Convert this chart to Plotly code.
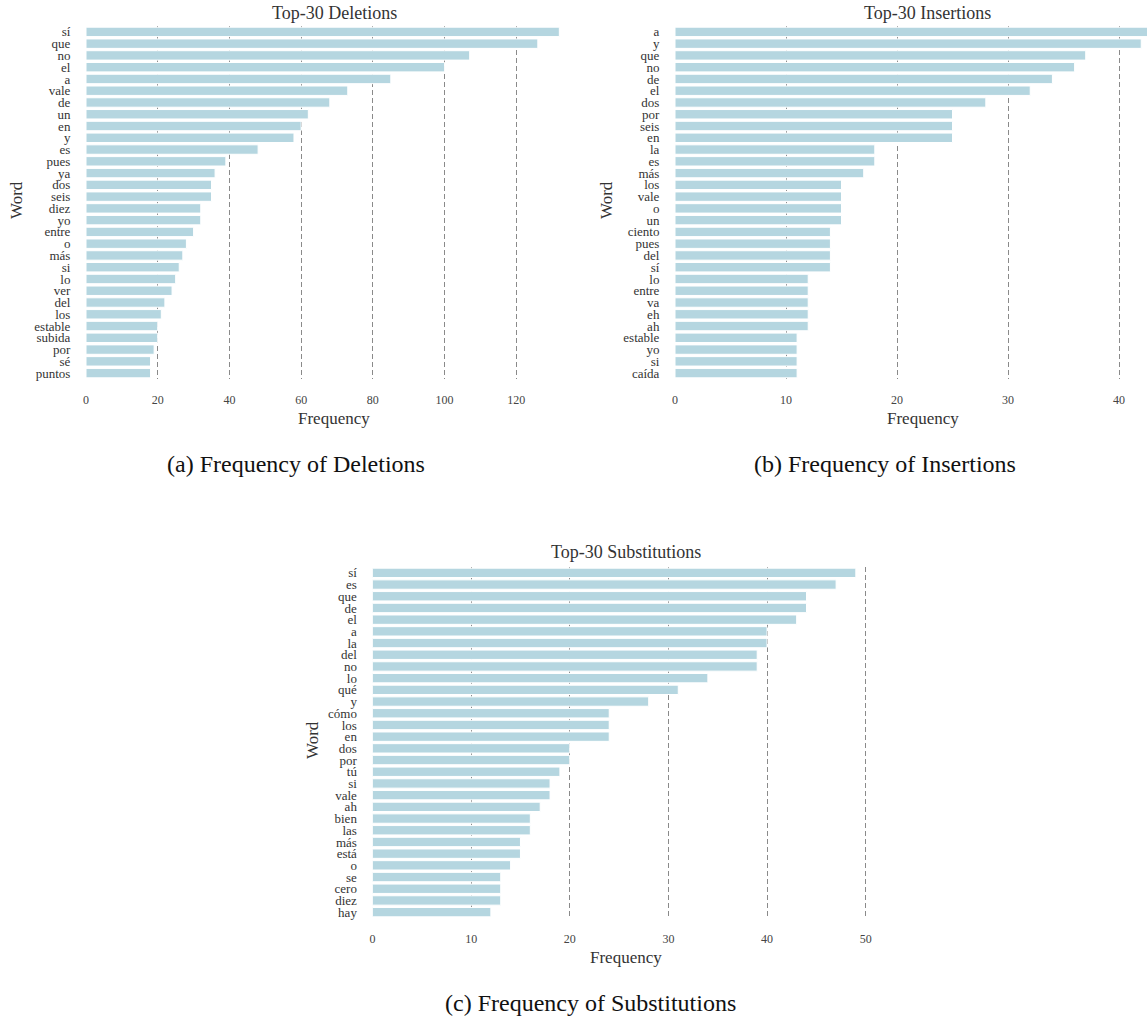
import plotly.graph_objects as go

# Top-30 word frequencies for each edit type
del_words = ["sí", "que", "no", "el", "a", "vale", "de", "un", "en", "y",
             "es", "pues", "ya", "dos", "seis", "diez", "yo", "entre", "o", "más",
             "si", "lo", "ver", "del", "los", "estable", "subida", "por", "sé", "puntos"]
del_freq = [132, 126, 107, 100, 85, 73, 68, 62, 60, 58,
            48, 39, 36, 35, 35, 32, 32, 30, 28, 27,
            26, 25, 24, 22, 21, 20, 20, 19, 18, 18]

ins_words = ["a", "y", "que", "no", "de", "el", "dos", "por", "seis", "en",
             "la", "es", "más", "los", "vale", "o", "un", "ciento", "pues", "del",
             "sí", "lo", "entre", "va", "eh", "ah", "estable", "yo", "si", "caída"]
ins_freq = [43, 42, 37, 36, 34, 32, 28, 25, 25, 25,
            18, 18, 17, 15, 15, 15, 15, 14, 14, 14,
            14, 12, 12, 12, 12, 12, 11, 11, 11, 11]

sub_words = ["sí", "es", "que", "de", "el", "a", "la", "del", "no", "lo",
             "qué", "y", "cómo", "los", "en", "dos", "por", "tú", "si", "vale",
             "ah", "bien", "las", "más", "está", "o", "se", "cero", "diez", "hay"]
sub_freq = [49, 47, 44, 44, 43, 40, 40, 39, 39, 34,
            31, 28, 24, 24, 24, 20, 20, 19, 18, 18,
            17, 16, 16, 15, 15, 14, 13, 13, 13, 12]

W, H = 1147, 1020
FONT = "Liberation Serif"
TXT = "#333333"
BAR = "#b5d6e0"


def px(x):
    return x / W


def py(y):
    return 1 - y / H


fig = go.Figure()

panels = [
    # words, values, axis suffix, x-domain px, y-domain px, x-range, tick step
    (del_words, del_freq, "", (86, 583), (26, 379), [0, 138.6], 20),
    (ins_words, ins_freq, "2", (675, 1147), (26, 379), [0, 42.52], 10),
    (sub_words, sub_freq, "3", (372.5, 880), (567, 918), [0, 51.45], 10),
]

for words, vals, sfx, (x0, x1), (y0, y1), xr, step in panels:
    fig.add_trace(go.Bar(
        x=vals, y=words, orientation="h", width=0.8,
        marker=dict(color=BAR, line=dict(color="white", width=1)),
        xaxis="x" + sfx, yaxis="y" + sfx, showlegend=False,
    ))
    fig.layout["xaxis" + sfx] = dict(
        domain=[px(x0), px(x1)], range=xr, anchor="y" + sfx, automargin=False,
        dtick=step, tick0=0, showgrid=True, gridcolor="#8a8a8a", griddash="5px,3px",
        gridwidth=1, zeroline=False, showline=False,
        ticks="outside", ticklen=10, tickcolor="rgba(0,0,0,0)",
        tickfont=dict(family=FONT, size=12, color="#444444"),
    )
    fig.layout["yaxis" + sfx] = dict(
        domain=[py(y1), py(y0)], anchor="x" + sfx, autorange="reversed",
        automargin=False,
        type="category", tickmode="array", tickvals=words, ticktext=words,
        showgrid=False, zeroline=False, showline=False,
        ticks="outside", ticklen=12, tickcolor="rgba(0,0,0,0)",
        tickfont=dict(family=FONT, size=13, color=TXT),
    )

ann = []


def text(x, y, s, size, angle=0):
    ann.append(dict(x=px(x), y=py(y), xref="paper", yref="paper", text=s,
                    showarrow=False, xanchor="center", yanchor="middle",
                    textangle=angle, font=dict(family=FONT, size=size, color=TXT)))


# panel titles
text(334, 13, "Top-30 Deletions", 18)
text(927, 13, "Top-30 Insertions", 18)
text(626, 552, "Top-30 Substitutions", 18)
# axis titles
text(334, 418, "Frequency", 17)
text(923, 418, "Frequency", 17)
text(626, 957, "Frequency", 17)
text(17, 200, "Word", 17, -90)
text(607, 200, "Word", 17, -90)
text(312, 740, "Word", 17, -90)
# captions
ann_caps = [(296, 464, "(a) Frequency of Deletions"),
            (885, 464, "(b) Frequency of Insertions"),
            (590, 1003, "(c) Frequency of Substitutions")]
for cx, cy, s in ann_caps:
    ann.append(dict(x=px(cx), y=py(cy), xref="paper", yref="paper", text=s,
                    showarrow=False, xanchor="center", yanchor="middle",
                    font=dict(family=FONT, size=24, color="#111111")))

fig.update_layout(
    width=W, height=H, margin=dict(l=0, r=0, t=0, b=0),
    paper_bgcolor="white", plot_bgcolor="white",
    annotations=ann, bargap=0.2,
)

fig.write_html("out.html")
